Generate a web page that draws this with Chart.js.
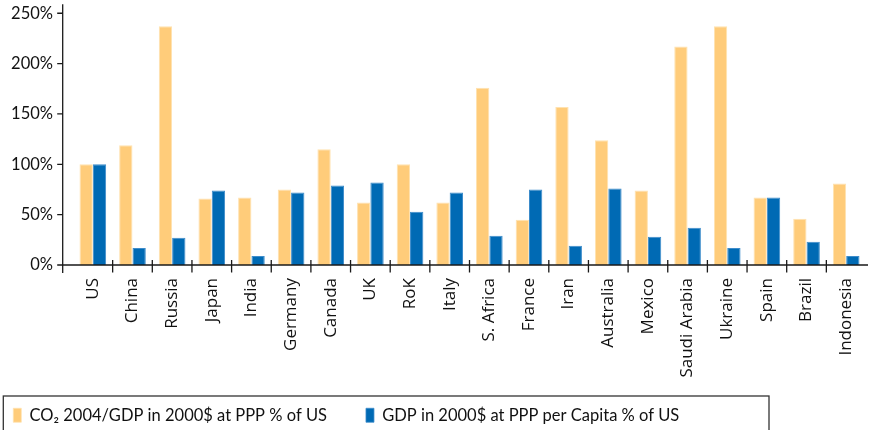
<!DOCTYPE html>
<html>
<head>
<meta charset="utf-8">
<script src="https://cdn.jsdelivr.net/npm/chart.js@4/dist/chart.umd.min.js"></script>
<style>
html,body{margin:0;padding:0;background:#fff;}
#wrap{width:870px;height:430px;position:relative;}
</style>
</head>
<body>
<div id="wrap"><canvas id="c" width="870" height="430"></canvas></div>
<script>
const categories = ['US','China','Russia','Japan','India','Germany','Canada','UK','RoK','Italy','S. Africa','France','Iran','Australia','Mexico','Saudi Arabia','Ukraine','Spain','Brazil','Indonesia'];
const co2PerGdp = [100,119,237,66,67,75,115,62,100,62,176,45,157,124,74,217,237,67,46,81];
const gdpPerCapita = [100,17,27,74,9,72,79,82,53,72,29,75,19,76,28,37,17,67,23,9];
const seriesNames = ['CO\u2082 2004/GDP in 2000$ at PPP % of US','GDP in 2000$ at PPP per Capita % of US'];
const yTicks = [0,50,100,150,200,250];

const LEG_PAD = 39;

const axesPlugin = {
  id: 'axesPlugin',
  beforeDraw(chart) {
    // let the rotated category labels run below the scale box (no clipping)
    chart.scales.x.bottom = chart.height;
  },
  afterDraw(chart) {
    const ctx = chart.ctx;
    const xs = chart.scales.x, ys = chart.scales.y;
    const area = chart.chartArea;
    const x0 = area.left - 10.3;
    const y0 = ys.getPixelForValue(0);
    ctx.save();
    ctx.strokeStyle = '#1a1a1a';
    ctx.lineWidth = 1.3;
    ctx.beginPath();
    ctx.moveTo(x0, area.top + 1);
    ctx.lineTo(x0, y0 + 8);
    ys.ticks.forEach(t => {
      const y = ys.getPixelForValue(t.value);
      ctx.moveTo(x0 - 5.5, y);
      ctx.lineTo(x0, y);
    });
    ctx.moveTo(x0, y0);
    ctx.lineTo(area.right + 2, y0);
    for (let i = 1; i < categories.length; i++) {
      const x = (xs.getPixelForValue(i - 1) + xs.getPixelForValue(i)) / 2;
      ctx.moveTo(x, y0 - 5);
      ctx.lineTo(x, y0 + 7.5);
    }
    ctx.stroke();
    const lg = chart.legend;
    if (lg && lg.legendHitBoxes && lg.legendHitBoxes.length) {
      const hb = lg.legendHitBoxes;
      const l = hb[0].left - 10;
      const t = hb[0].top - 11;
      const r = chart.width - 101;
      ctx.strokeStyle = '#333';
      ctx.strokeRect(l, t, r - l, 100);
    }
    ctx.restore();
  }
};

new Chart(document.getElementById('c'), {
  type: 'bar',
  data: {
    labels: categories,
    datasets: [
      {
        label: seriesNames[0],
        data: co2PerGdp,
        backgroundColor: '#FFCC7A',
        borderColor: '#FFE2B0',
        borderWidth: {top: 1, left: 1, right: 1, bottom: 0},
        categoryPercentage: 0.672,
        barPercentage: 1.0
      },
      {
        label: seriesNames[1],
        data: gdpPerCapita,
        backgroundColor: '#006AB4',
        borderColor: '#3D8CCB',
        borderWidth: {top: 1, left: 1, right: 1, bottom: 0},
        categoryPercentage: 0.672,
        barPercentage: 1.0
      }
    ]
  },
  options: {
    responsive: false,
    animation: false,
    events: [],
    layout: { padding: { top: 3.2, right: 4, bottom: -3.5, left: 13.3 - LEG_PAD } },
    scales: {
      x: {
        offset: true,
        grid: { display: false, drawTicks: false },
        border: { display: false },
        ticks: {
          autoSkip: false,
          maxRotation: 90,
          minRotation: 90,
          padding: 13,
          color: '#111',
          font: { family: 'Open Sans', size: 17 }
        },
        afterFit(scale) {
          scale.height = 103;
          scale.paddingLeft = 0;
          scale.paddingRight = 0;
        }
      },
      y: {
        min: 0,
        max: 260,
        grid: { display: false, drawTicks: true, tickLength: 18 },
        border: { display: false },
        afterBuildTicks(scale) {
          scale.ticks = yTicks.map(v => ({ value: v }));
        },
        ticks: {
          padding: 2,
          color: '#111',
          font: { family: 'Lato', size: 16.5 },
          callback: v => v + '%'
        },
        afterFit(scale) {
          scale.width = 73 - (13.3 - LEG_PAD);
          scale.paddingTop = 0;
          scale.paddingBottom = 0;
        }
      }
    },
    plugins: {
      legend: {
        position: 'bottom',
        align: 'start',
        labels: {
          boxWidth: 8,
          boxHeight: 14,
          padding: LEG_PAD,
          color: '#111',
          font: { family: 'Lato', size: 16.5 }
        }
      },
      tooltip: { enabled: false }
    }
  },
  plugins: [axesPlugin]
});
</script>
</body>
</html>
